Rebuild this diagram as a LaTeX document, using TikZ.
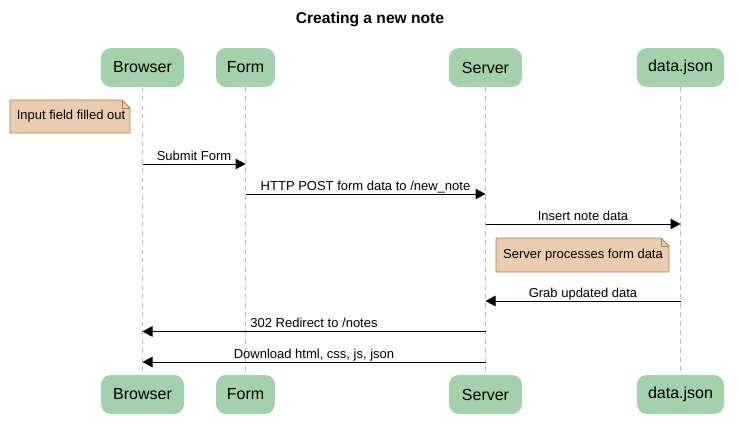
\documentclass[tikz,border=0pt]{standalone}
\usepackage{fontspec}
\setmainfont{Liberation Sans}
\usetikzlibrary{arrows.meta}
\definecolor{actorfill}{RGB}{163,209,171}
\definecolor{notefill}{RGB}{234,204,176}
\definecolor{notedraw}{RGB}{168,128,88}
\definecolor{lifegray}{RGB}{190,190,190}
\tikzset{
  actor/.style={fill=actorfill, rounded corners=10pt, minimum height=39pt, inner sep=0pt, font=\fontsize{16}{19}\selectfont},
  lifeline/.style={draw=lifegray, dashed, dash pattern=on 5pt off 4pt, line width=0.8pt},
  msg/.style={line width=1pt, -{Triangle[length=10pt,width=10.5pt]}},
  msglabel/.style={font=\fontsize{13}{15}\selectfont, inner sep=0pt, anchor=base, yshift=4pt},
  notebox/.style={inner sep=0pt, font=\fontsize{13}{15}\selectfont},
  notepath/.style={fill=notefill, draw=notedraw, line width=0.8pt},
}
\begin{document}
\begin{tikzpicture}[x=1pt,y=-1pt]
\useasboundingbox (0,0) rectangle (739,439);
% title
\node[font=\bfseries\fontsize{15.6}{18}\selectfont] (title) at (370,20) {Creating a new note};
% actors top
\node[actor, minimum width=83pt] (bt) at (142.5,67.5) {Browser};
\node[actor, minimum width=59pt] (ft) at (245.5,67.5) {Form};
\node[actor, minimum width=73pt] (st) at (485.5,67.5) {Server};
\node[actor, minimum width=87pt] (dt) at (680.5,67.5) {data.json};
% actors bottom
\node[actor, minimum width=83pt] (bb) at (142.5,394.5) {Browser};
\node[actor, minimum width=59pt] (fb) at (245.5,394.5) {Form};
\node[actor, minimum width=73pt] (sb) at (485.5,394.5) {Server};
\node[actor, minimum width=87pt] (db) at (680.5,394.5) {data.json};
% lifelines
\draw[lifeline] (bt.south) -- (bb.north);
\draw[lifeline] (ft.south) -- (fb.north);
\draw[lifeline] (st.south) -- (sb.north);
\draw[lifeline] (dt.south) -- (db.north);
% note 1
\path[notepath] (10,100) -- (122,100) -- (130,108) -- (130,133) -- (10,133) -- cycle;
\draw[notedraw, line width=0.8pt] (122,100) -- (122,108) -- (130,108);
\node[notebox] (n1) at (71,116.5) {Input field filled out};
% note 2
\path[notepath] (496,238) -- (661,238) -- (669,246) -- (669,272) -- (496,272) -- cycle;
\draw[notedraw, line width=0.8pt] (661,238) -- (661,246) -- (669,246);
\node[notebox] (n2) at (583,255) {Server processes form data};
% message endpoints
\coordinate (m1a) at (142.5,164); \coordinate (m1b) at (245.5,164);
\coordinate (m2a) at (245.5,194); \coordinate (m2b) at (485.5,194);
\coordinate (m3a) at (485.5,224); \coordinate (m3b) at (680.5,224);
\coordinate (m4a) at (680.5,301); \coordinate (m4b) at (485.5,301);
\coordinate (m5a) at (485.5,331.5); \coordinate (m5b) at (142.5,331.5);
\coordinate (m6a) at (485.5,362); \coordinate (m6b) at (142.5,362);
\draw[msg] (m1a) -- node[msglabel] (l1) {Submit Form} (m1b);
\draw[msg] (m2a) -- node[msglabel] (l2) {HTTP POST form data to /new\_note} (m2b);
\draw[msg] (m3a) -- node[msglabel] (l3) {Insert note data} (m3b);
\draw[msg] (m4a) -- node[msglabel] (l4) {Grab updated data} (m4b);
\draw[msg] (m5a) -- node[msglabel] (l5) {302 Redirect to /notes} (m5b);
\draw[msg] (m6a) -- node[msglabel] (l6) {Download html, css, js, json} (m6b);
\end{tikzpicture}
\end{document}
